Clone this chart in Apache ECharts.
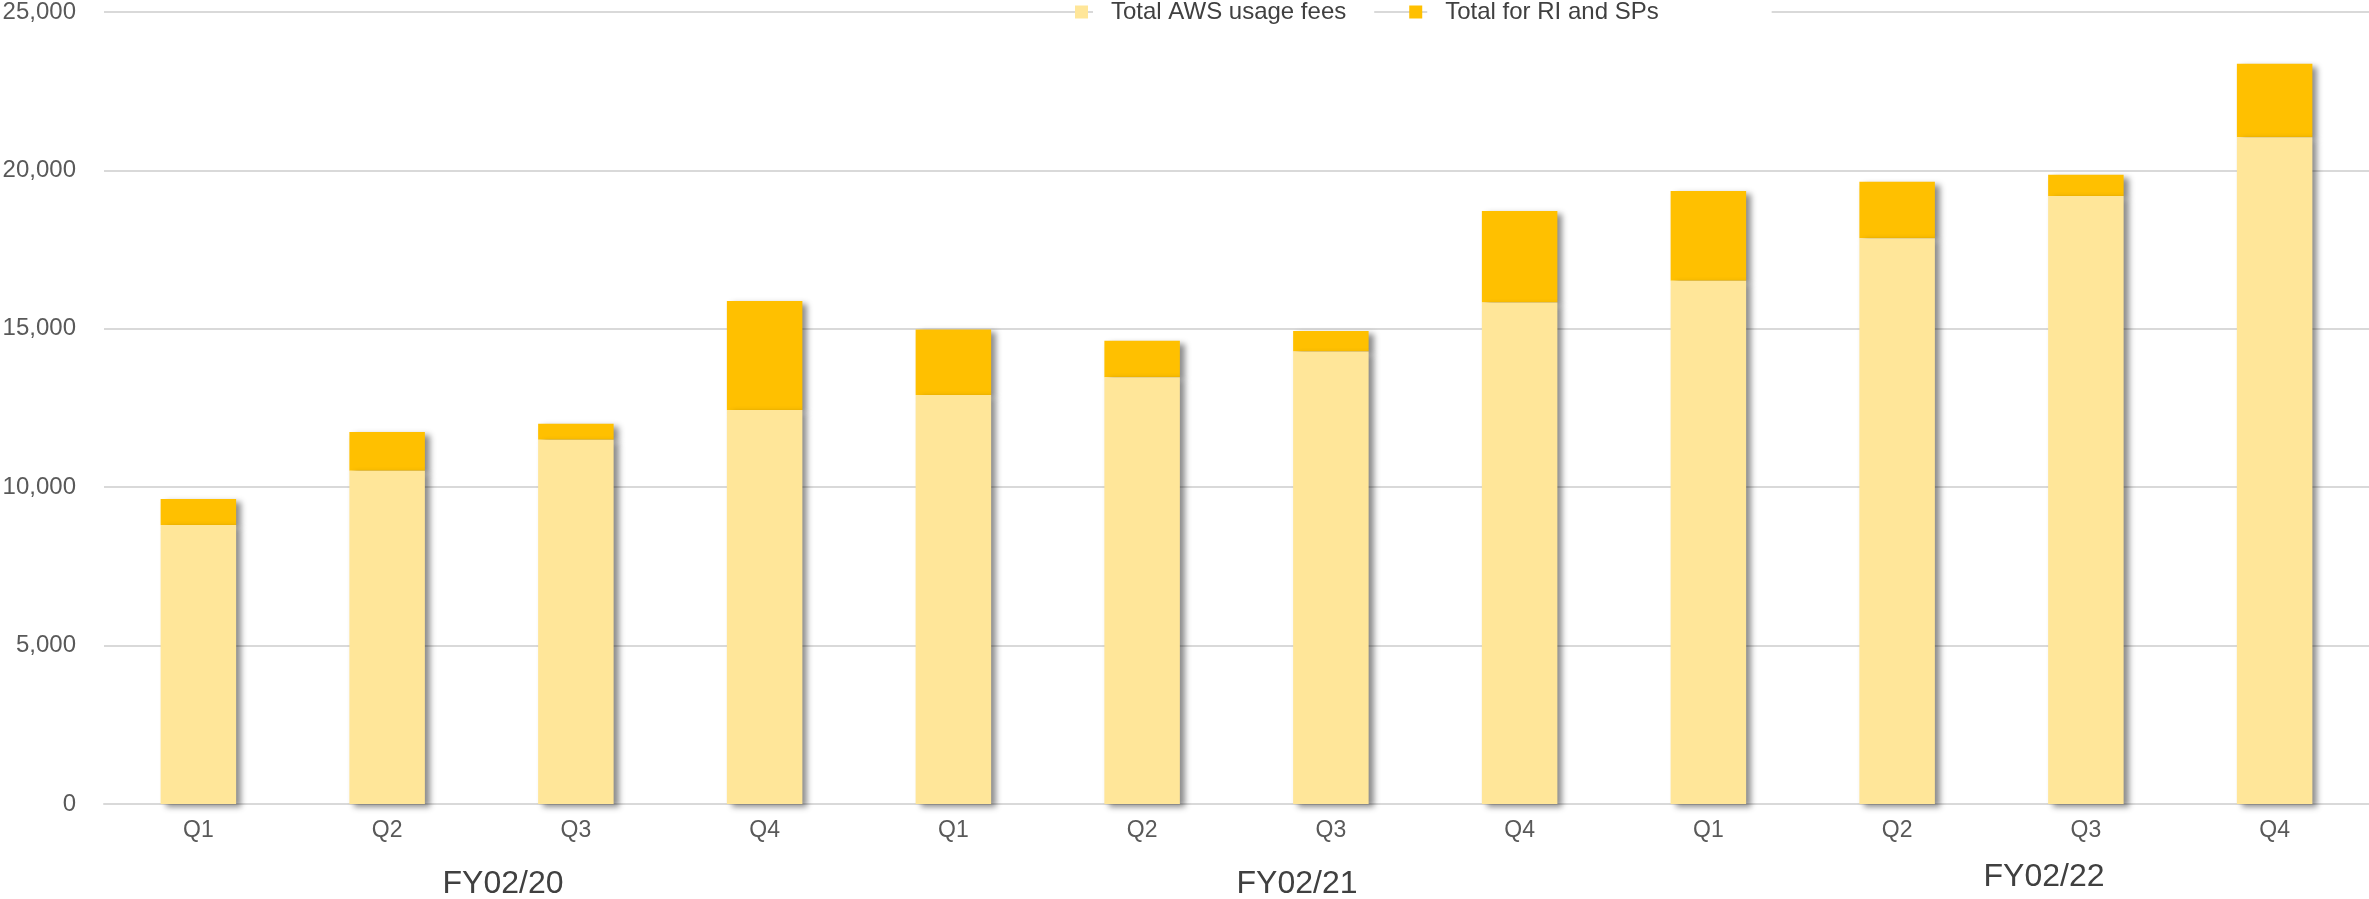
<!DOCTYPE html>
<html>
<head>
<meta charset="utf-8">
<script src="https://cdn.jsdelivr.net/npm/echarts@6/dist/echarts.min.js"></script>
<style>
  html, body { margin: 0; padding: 0; background: #fff; }
  #chart { width: 2369px; height: 899px; }
</style>
</head>
<body>
<div id="chart"></div>
<script>
// ---- data ----
const categories = ['Q1', 'Q2', 'Q3', 'Q4', 'Q1', 'Q2', 'Q3', 'Q4', 'Q1', 'Q2', 'Q3', 'Q4'];
const fiscalYears = ['FY02/20', 'FY02/21', 'FY02/22'];
const seriesNames = ['Total AWS usage fees', 'Total for RI and SPs'];
const usageFees = [8810, 10520, 11500, 12440, 12910, 13470, 14280, 15830, 16520, 17860, 19190, 21050];
const riAndSps = [820, 1220, 500, 3440, 2070, 1150, 650, 2890, 2830, 1780, 670, 2320];
const yTicks = { min: 0, max: 25000, interval: 5000 };

const chart = echarts.init(document.getElementById('chart'), null, { renderer: 'canvas' });

const font = "'Liberation Sans', Arial, sans-serif";
const barShadow = {
  shadowColor: 'rgba(0,0,0,0.45)',
  shadowBlur: 6,
  shadowOffsetX: 5,
  shadowOffsetY: 3
};

const option = {
  backgroundColor: '#ffffff',
  animation: false,
  textStyle: { fontFamily: font },
  grid: {
    left: 104, right: 0, top: 12, bottom: 95,
    containLabel: false,
    outerBoundsMode: 'none'
  },
  legend: {
    left: 1075,
    top: 0,
    padding: 0,
    itemGap: 35,
    itemWidth: 13,
    itemHeight: 13,
    icon: 'rect',
    data: [
      {
        name: seriesNames[0],
        textStyle: {
          fontSize: 24, lineHeight: 24, color: '#404040', fontFamily: font,
          backgroundColor: '#ffffff', padding: [0, 28, 0, 18]
        }
      },
      {
        name: seriesNames[1],
        textStyle: {
          fontSize: 24, lineHeight: 24, color: '#404040', fontFamily: font,
          backgroundColor: '#ffffff', padding: [0, 113, 0, 18]
        }
      }
    ]
  },
  xAxis: {
    type: 'category',
    data: categories,
    axisLine: { show: true, lineStyle: { color: '#d9d9d9', width: 2 } },
    axisTick: { show: false },
    axisLabel: { fontSize: 23, color: '#595959', margin: 15, fontFamily: font }
  },
  yAxis: {
    type: 'value',
    min: yTicks.min,
    max: yTicks.max,
    interval: yTicks.interval,
    axisLine: { show: false },
    axisTick: { show: false },
    splitLine: { lineStyle: { color: '#d9d9d9', width: 2 } },
    axisLabel: {
      fontSize: 24, color: '#595959', margin: 28, fontFamily: font,
      formatter: v => v.toLocaleString('en-US')
    }
  },
  series: [
    {
      name: seriesNames[0],
      type: 'bar',
      stack: 'total',
      barWidth: '40%',
      z: 3,
      data: usageFees,
      itemStyle: Object.assign({ color: '#FFE699' }, barShadow)
    },
    {
      name: seriesNames[1],
      type: 'bar',
      stack: 'total',
      barWidth: '40%',
      z: 2,
      data: riAndSps,
      itemStyle: Object.assign({ color: '#FFC000' }, barShadow)
    }
  ],
  graphic: [
    { type: 'text', x: 503, y: 884, style: { text: fiscalYears[0], fill: '#404040', font: "32px 'Liberation Sans', Arial, sans-serif", align: 'center', verticalAlign: 'middle' } },
    { type: 'text', x: 1297, y: 884, style: { text: fiscalYears[1], fill: '#404040', font: "32px 'Liberation Sans', Arial, sans-serif", align: 'center', verticalAlign: 'middle' } },
    { type: 'text', x: 2044, y: 877, style: { text: fiscalYears[2], fill: '#404040', font: "32px 'Liberation Sans', Arial, sans-serif", align: 'center', verticalAlign: 'middle' } }
  ]
};

chart.setOption(option);
</script>
</body>
</html>
